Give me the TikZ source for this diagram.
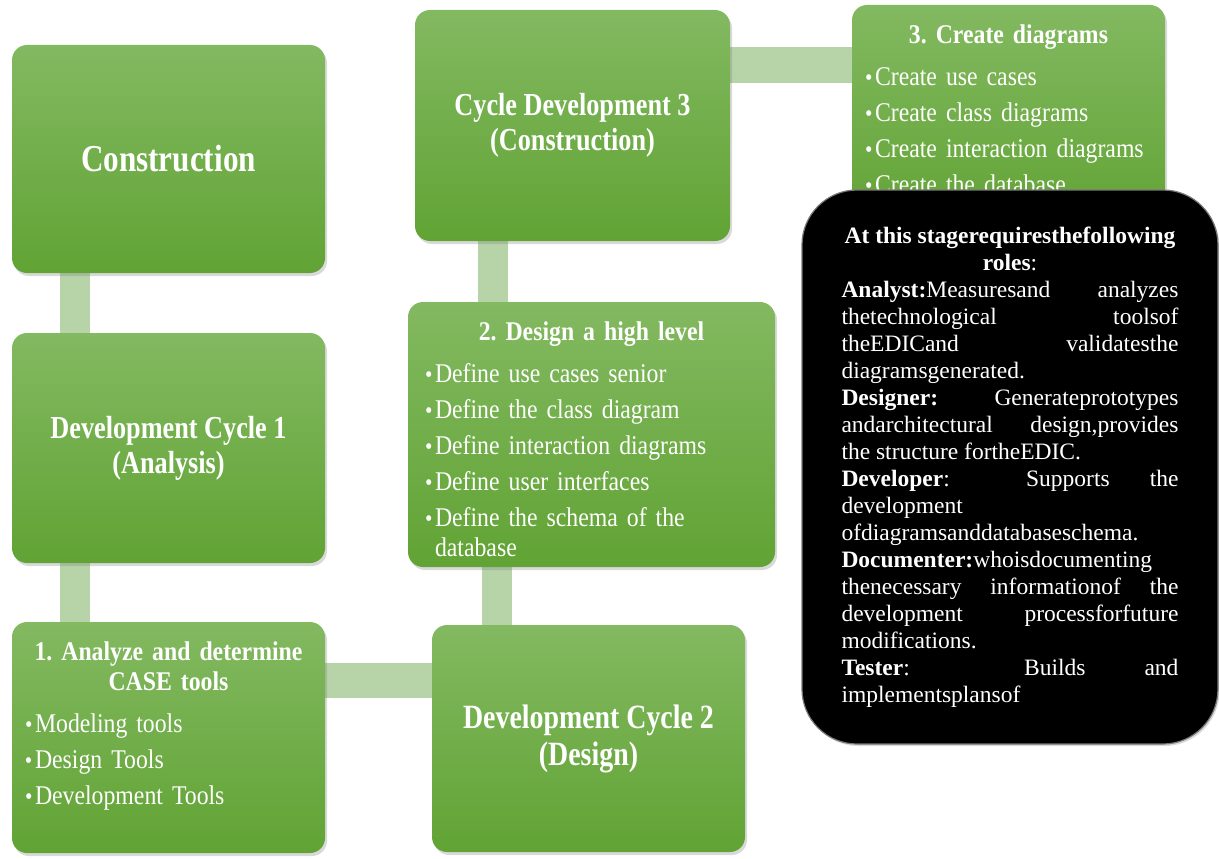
\documentclass[tikz,border=0pt]{standalone}
\usepackage{fontspec}
\setmainfont{Liberation Serif}
\newfontfamily\narrowserif{Liberation Serif}[FakeStretch=0.88]
\newfontfamily\condserif{Liberation Serif}[FakeStretch=0.82]
\usepackage{tikz}
\usetikzlibrary{shadows,backgrounds}
\definecolor{greenT}{RGB}{131, 185, 97}
\definecolor{greenB}{RGB}{97, 163, 52}
\definecolor{linkgreen}{RGB}{183, 212, 169}
\definecolor{rolesgray}{RGB}{120, 120, 120}

\newlength{\bulwd}
\setlength{\bulwd}{10pt}
\newcommand{\bul}[1]{\par\vspace{6pt}\noindent\makebox[\bulwd][l]{\fontsize{24}{24}\selectfont\textbullet}%
  \parbox[t]{\dimexpr\hsize-\bulwd\relax}{\raggedright #1}}

\tikzset{
  greenbox/.style = {rectangle, rounded corners = 15pt, top color = greenT, bottom color = greenB,
    drop shadow = {shadow xshift = 2pt, shadow yshift = -3pt, opacity = 0.3},
    text = white, align = center, inner sep = 0pt},
  biglabel/.style 2 args = {font = \condserif\bfseries\fontsize{#1}{#2}\selectfont},
  listtext/.style = {text = white, inner sep = 0pt, anchor = north,
    font = \narrowserif\fontsize{27}{30}\selectfont\frenchspacing},
  rolesbox/.style = {rectangle, rounded corners = 55pt, fill = black, draw = rolesgray, line width = 1.2pt,
    drop shadow = {shadow xshift = 1.5pt, shadow yshift = -2pt, opacity = 0.3},
    minimum width = 416pt, minimum height = 554pt, text width = 337pt, align = justify,
    inner sep = 0pt, text = white, font = \fontsize{23.5}{27}\selectfont},
  link/.style = {draw = linkgreen, line width = 30pt}
}

\begin{document}
\begin{tikzpicture}[x = 1pt, y = -1pt]
\useasboundingbox (0,0) rectangle (1219,859);
% left column
\node (constr) at (168.5,159) [greenbox, minimum width = 313pt, minimum height = 228pt, biglabel = {38}{40}] {Construction};
\node (cyc1) at (168.5,448) [greenbox, minimum width = 313pt, minimum height = 230pt, biglabel = {32}{35}] {Development Cycle 1\\(Analysis)};
\node (analyze) at (168.5,737.5) [greenbox, minimum width = 313pt, minimum height = 231pt] {};
\node (analyzetxt) at (168.5,642) [listtext, text width = 287pt] {{\centering\bfseries 1. Analyze and determine\par CASE tools\par}\vspace{6pt}\raggedright
  \bul{Modeling tools}\bul{Design Tools}\bul{Development Tools}};
% middle column
\node (cyc2) at (588.5,738.5) [greenbox, minimum width = 313pt, minimum height = 227pt, biglabel = {34}{37}] {Development Cycle 2\\(Design)};
\node (design) at (591.5,434.5) [greenbox, minimum width = 367pt, minimum height = 265pt] {};
\node (designtxt) at (591.5,322) [listtext, text width = 333pt] {{\centering\bfseries 2. Design a high level\par}\vspace{6pt}\raggedright
  \bul{Define use cases senior}\bul{Define the class diagram}\bul{Define interaction diagrams}\bul{Define user interfaces}\bul{Define the schema of the\newline database}};
\node (cyc3) at (572.5,125.5) [greenbox, minimum width = 315pt, minimum height = 231pt, biglabel = {32}{35}] {Cycle Development 3\\(Construction)};
% right column
\node (create) at (1008.5,117.5) [greenbox, minimum width = 313pt, minimum height = 225pt] {};
\node (createtxt) at (1008.5,25) [listtext, text width = 287pt] {{\centering\bfseries 3. Create diagrams\par}\vspace{6pt}\raggedright
  \bul{Create use cases}\bul{Create class diagrams}\bul{Create interaction diagrams}\bul{Create the database}};
\node (roles) at (1010,467) [rolesbox] {{\centering\bfseries At this stagerequiresthefollowing\par roles\mdseries:\par}
  \textbf{Analyst:}Measuresand analyzes\linebreak thetechnological toolsof\linebreak theEDICand validatesthe\linebreak diagramsgenerated.\par
  \textbf{Designer:} Generateprototypes\linebreak andarchitectural design,provides\linebreak the structure fortheEDIC.\par
  \textbf{Developer}: Supports the\linebreak development\linebreak ofdiagramsanddatabaseschema.\par
  \textbf{Documenter:}whoisdocumenting\linebreak thenecessary informationof the\linebreak development processforfuture\linebreak modifications.\par
  \textbf{Tester}: Builds and\linebreak implementsplansof\par};
% connectors
\begin{scope}[on background layer]
\draw[link] ([xshift = -93.5pt]constr.south) -- ([xshift = -93.5pt]cyc1.north);
\draw[link] ([xshift = -93.5pt]cyc1.south) -- ([xshift = -93.5pt]analyze.north);
\draw[link, line width = 35pt] ([yshift = 57.5pt]analyze.east) -- ([yshift = 57.5pt]analyze.east -| cyc2.west);
\draw[link] ([xshift = -91.5pt]cyc2.north) -- ([xshift = -91.5pt]cyc2.north |- design.south);
\draw[link] ([xshift = -98.5pt]design.north) -- ([xshift = -98.5pt]design.north |- cyc3.south);
\draw[link, line width = 36pt] ([yshift = 60.5pt]cyc3.east) -- ([yshift = 60.5pt]cyc3.east -| create.west);
\end{scope}
\end{tikzpicture}
\end{document}
